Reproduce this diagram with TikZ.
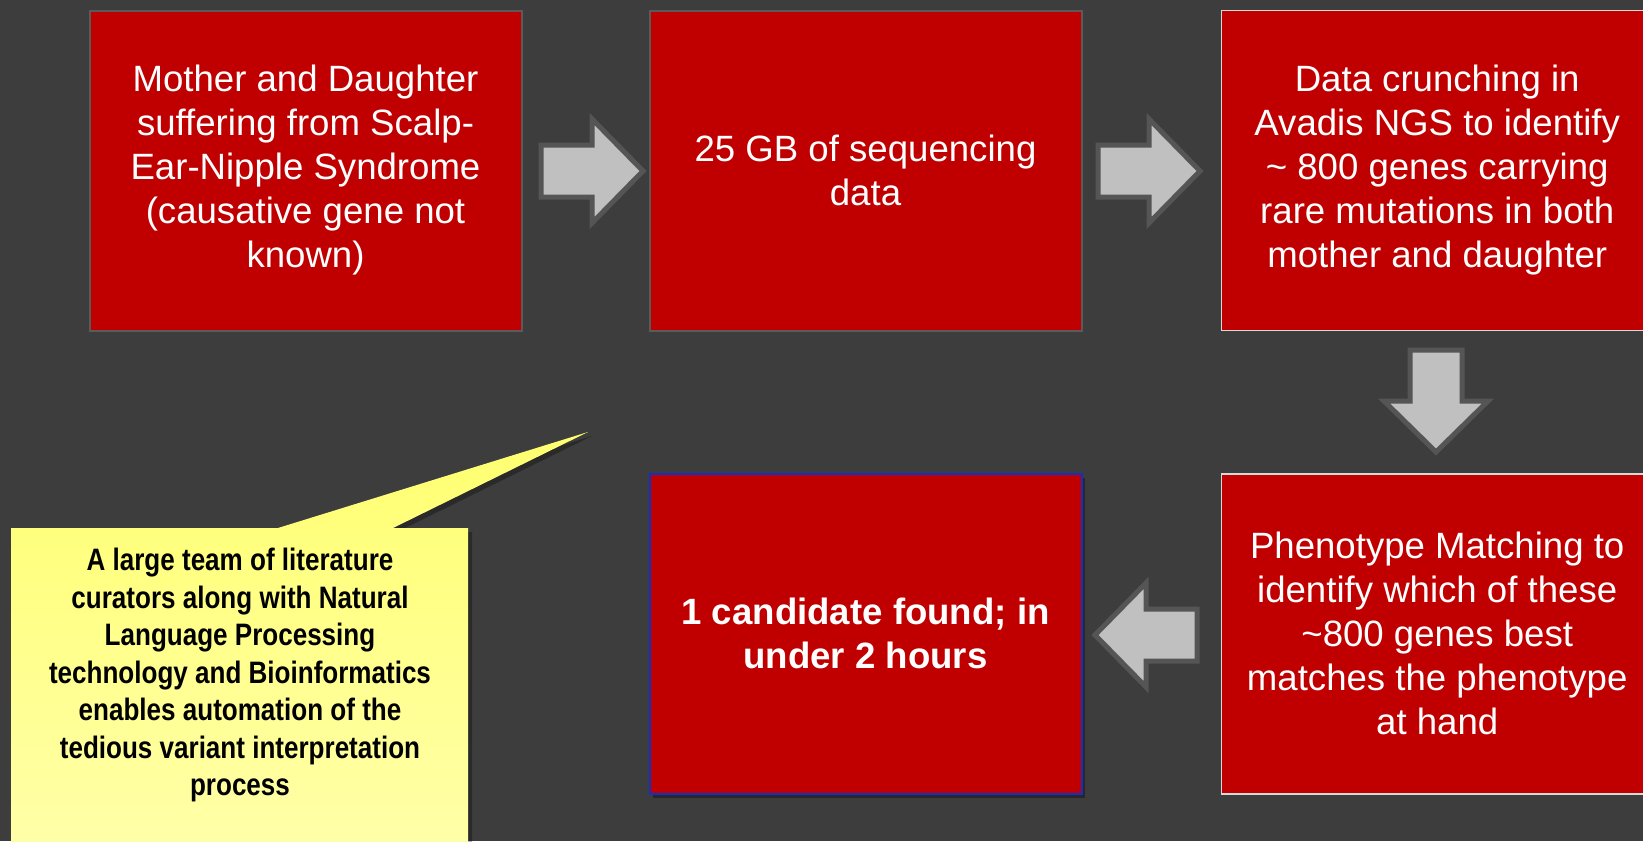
\documentclass[tikz,border=0pt]{standalone}
\usepackage{fontspec}
\setmainfont{Liberation Sans}
\newfontfamily\narrowfont[FakeStretch=0.84]{Liberation Sans}
\usetikzlibrary{positioning,shadows}
\definecolor{slide}{HTML}{3D3D3D}
\definecolor{boxred}{HTML}{C00000}
\definecolor{edgegrey}{HTML}{5A5A5A}
\definecolor{edgelight}{HTML}{D9D9D9}
\definecolor{edgeblue}{HTML}{1030C8}
\definecolor{arrowgrey}{HTML}{C0C0C0}
\definecolor{arrowedge}{HTML}{555555}
\definecolor{noteyellow}{HTML}{FFFF70}
\definecolor{notepale}{HTML}{FFFFAA}

\begin{document}
\begin{tikzpicture}[x=0.5pt, y=-0.5pt,
    stepbox/.style={fill=boxred, text=white, minimum width=216pt, minimum height=160pt,
      align=center, inner sep=0pt, font=\fontsize{18.3}{22}\selectfont},
    blockarrow/.style={draw=arrowedge, fill=arrowgrey, line width=2.5pt, line join=miter}]
  % slide background
  \fill[slide] (0,0) rectangle (1643,841);
  \useasboundingbox (0,0) rectangle (1643,841);

  % Workflow steps
  \node (mother) [stepbox, draw=edgegrey, line width=1pt] at (305.5,170.5)
    {Mother and Daughter\\suffering from Scalp-\\Ear-Nipple Syndrome\\(causative gene not\\known)};
  \node (seqdata) [stepbox, draw=edgegrey, line width=1pt, right=63pt of mother]
    {25 GB of sequencing\\data};
  \node (crunch) [stepbox, draw=edgelight, line width=0.7pt, right=69pt of seqdata]
    {Data crunching in\\Avadis NGS to identify\\\textasciitilde{} 800 genes carrying\\rare mutations in both\\mother and daughter};
  \node (pheno) [stepbox, draw=edgelight, line width=0.7pt, below=71pt of crunch]
    {Phenotype Matching to\\identify which of these\\\textasciitilde800 genes best\\matches the phenotype\\at hand};
  \node (found) [stepbox, draw=edgeblue, line width=1pt, left=69pt of pheno,
    drop shadow={shadow xshift=1.5pt, shadow yshift=-2pt, opacity=0.35, fill=black}]
    {\bfseries 1 candidate found; in\\\bfseries under 2 hours};

  % Block arrows between the steps
  \foreach \cx/\cy/\ang in {592/171/0, 1149/171/0, 1436/401/-90, 1146/635/180}
    \draw[blockarrow, shift={(\cx,\cy)}, rotate=\ang]
      (-51,-26) -- (0,-26) -- (0,-52) -- (51,0) -- (0,52) -- (0,26) -- (-51,26) -- cycle;

  % Callout
  \path[top color=noteyellow, bottom color=notepale,
    drop shadow={shadow xshift=2pt, shadow yshift=-2pt, opacity=0.3, fill=black}]
    (11,528) -- (278,528) -- (588,432) -- (393,528) -- (468,528) -- (468,860) -- (11,860) -- cycle;
  \node (note) [anchor=north, align=center, inner sep=0pt,
    font=\narrowfont\bfseries\fontsize{15.5}{18.75}\selectfont] at (240,548)
    {A large team of literature\\curators along with Natural\\Language Processing\\technology and Bioinformatics\\enables automation of the\\tedious variant interpretation\\process};
\end{tikzpicture}
\end{document}
